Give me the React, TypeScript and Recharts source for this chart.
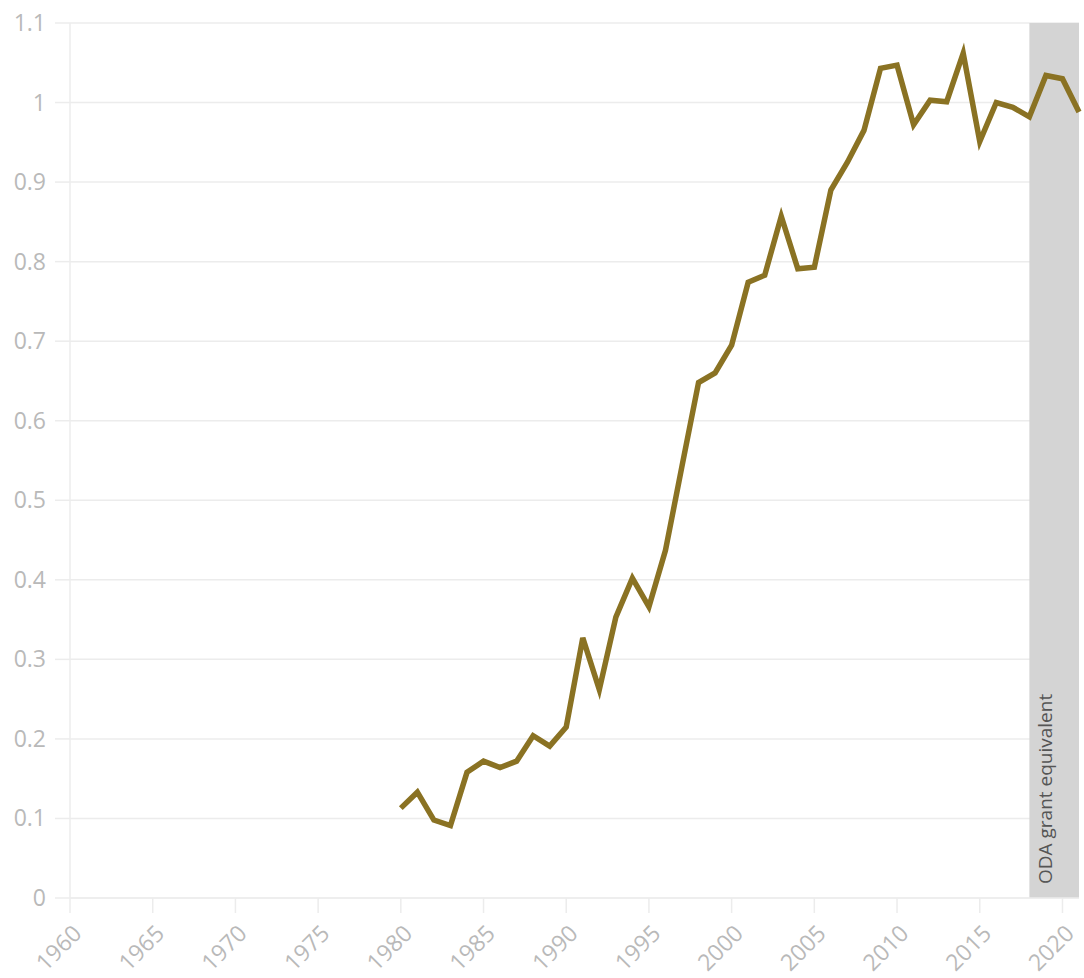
import React from "react";
import {
  LineChart,
  Line,
  XAxis,
  YAxis,
  CartesianGrid,
  ReferenceArea,
} from "recharts";

const years = [
  1980, 1981, 1982, 1983, 1984, 1985, 1986, 1987, 1988, 1989,
  1990, 1991, 1992, 1993, 1994, 1995, 1996, 1997, 1998, 1999,
  2000, 2001, 2002, 2003, 2004, 2005, 2006, 2007, 2008, 2009,
  2010, 2011, 2012, 2013, 2014, 2015, 2016, 2017, 2018, 2019,
  2020, 2021,
];
const values = [
  0.113, 0.133, 0.098, 0.091, 0.158, 0.172, 0.164, 0.172, 0.204, 0.191,
  0.215, 0.327, 0.262, 0.353, 0.402, 0.366, 0.437, 0.543, 0.648, 0.66,
  0.695, 0.774, 0.783, 0.857, 0.791, 0.793, 0.89, 0.925, 0.965, 1.043,
  1.047, 0.972, 1.003, 1.001, 1.062, 0.951, 1.0, 0.994, 0.982, 1.034,
  1.03, 0.988,
];
const xTicks = [1960, 1965, 1970, 1975, 1980, 1985, 1990, 1995, 2000, 2005, 2010, 2015, 2020];
const yTicks = [0, 0.1, 0.2, 0.3, 0.4, 0.5, 0.6, 0.7, 0.8, 0.9, 1, 1.1];
const shadeStart = 2018;
const shadeEnd = 2021;
const shadeLabel = "ODA grant equivalent";

const data = years.map((year, i) => ({ year, value: values[i] }));

const FONT = "'Open Sans', 'Noto Sans', sans-serif";
const TICK_COLOR = "#b9b9b9";
const GRID_COLOR = "#ececec";

const XTick = (props: any) => {
  const { x, y, payload } = props;
  return (
    <g transform={`translate(${x + 13},${y + 20})`}>
      <text
        x={0}
        y={0}
        textAnchor="end"
        transform="rotate(-45)"
        fill={TICK_COLOR}
        fontSize={23}
        fontFamily={FONT}
      >
        {payload.value}
      </text>
    </g>
  );
};

const YTick = (props: any) => {
  const { x, y, payload } = props;
  return (
    <text
      x={x}
      y={y}
      dy={8}
      textAnchor="end"
      fill={TICK_COLOR}
      fontSize={23}
      fontFamily={FONT}
    >
      {String(Math.round(payload.value * 10) / 10)}
    </text>
  );
};

const ShadeLabel = (props: any) => {
  const vb = props.viewBox || {};
  const cx = vb.x + vb.width / 2 - 9;
  const by = vb.y + vb.height - 14;
  return (
    <text
      x={cx}
      y={by}
      transform={`rotate(-90, ${cx}, ${by})`}
      textAnchor="start"
      dominantBaseline="central"
      fill="#555555"
      fontSize={19}
      fontFamily={FONT}
    >
      {shadeLabel}
    </text>
  );
};

export default function App() {
  return (
    <div style={{ position: "absolute", left: 0, top: 0, width: 1084, height: 978, background: "#fff" }}>
      <LineChart
        width={1084}
        height={978}
        data={data}
        margin={{ top: 23, right: 5, bottom: 0, left: 0 }}
      >
        <CartesianGrid vertical={false} stroke={GRID_COLOR} strokeWidth={1.5} />
        <XAxis
          dataKey="year"
          type="number"
          domain={[1960, 2021]}
          ticks={xTicks}
          interval={0}
          height={80}
          tickSize={15}
          tickMargin={2}
          stroke={GRID_COLOR}
          strokeWidth={1.5}
          tick={<XTick />}
        />
        <YAxis
          type="number"
          domain={[0, 1.1]}
          ticks={yTicks}
          interval={0}
          width={70}
          tickSize={15}
          tickMargin={9}
          stroke={GRID_COLOR}
          strokeWidth={1.5}
          tick={<YTick />}
        />
        <ReferenceArea
          x1={shadeStart}
          x2={shadeEnd}
          y1={0}
          y2={1.1}
          fill="#d4d4d4"
          fillOpacity={1}
          stroke="none"
          ifOverflow="visible"
          label={<ShadeLabel />}
        />
        <Line
          type="linear"
          dataKey="value"
          stroke="#8a7223"
          strokeWidth={5.5}
          dot={false}
          isAnimationActive={false}
        />
      </LineChart>
    </div>
  );
}
